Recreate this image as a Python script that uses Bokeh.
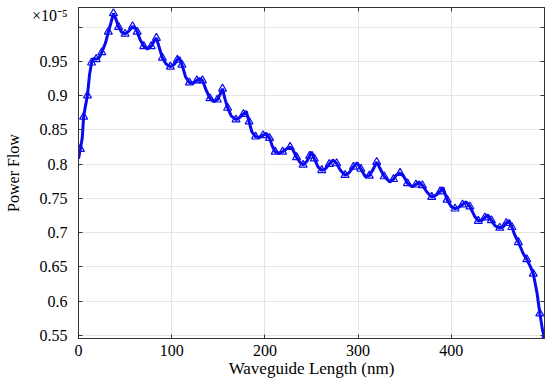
from bokeh.plotting import figure
from bokeh.models import LinearAxis, FixedTicker, Range1d
from bokeh.embed import file_html
from bokeh.resources import INLINE

# Waveguide length (nm) and power flow (units of 1e-5)
length_nm = [0, 2, 4, 5.5, 7.5, 9.6, 11.8, 14, 16, 19, 22, 25, 29, 32, 35, 37.5, 40, 43, 46, 50,
             54, 58, 61, 63, 66, 70, 74, 78, 81, 83.6, 86, 90, 94, 98.6, 103, 106, 108, 111, 115, 119,
             123, 127, 130, 133, 137, 141, 145, 149, 152, 154.5, 157, 160, 164, 169, 173, 177, 180, 183, 186, 190,
             194, 198, 201.5, 205, 208, 211, 215, 219, 223, 227, 230, 234, 238, 241, 245, 248, 250, 253, 257, 261,
             265, 269, 273, 277, 281, 286, 290, 295, 299, 303, 307.6, 312, 316, 320, 323, 328, 334, 338, 341, 345,
             349, 353, 358, 362, 365, 369, 374, 379, 384, 388, 391, 395.5, 400, 404, 408, 412, 416, 420, 425, 429,
             433, 436, 439, 443, 447, 452, 456, 459, 462, 465, 468, 472, 477, 481, 485, 488, 492, 495, 498, 500]
power_flow = [0.808, 0.822, 0.838, 0.869, 0.885, 0.900, 0.930, 0.948, 0.954, 0.953, 0.955, 0.963, 0.977, 0.993, 1.007, 1.020, 1.012, 1.000, 0.993, 0.990,
              0.994, 1.001, 0.998, 0.993, 0.982, 0.972, 0.968, 0.972, 0.979, 0.984, 0.973, 0.955, 0.946, 0.942, 0.946, 0.952, 0.956, 0.945, 0.927, 0.919,
              0.918, 0.922, 0.925, 0.922, 0.908, 0.896, 0.891, 0.894, 0.902, 0.910, 0.896, 0.882, 0.870, 0.865, 0.868, 0.873, 0.877, 0.862, 0.847, 0.840,
              0.839, 0.842, 0.845, 0.838, 0.826, 0.818, 0.816, 0.818, 0.822, 0.825, 0.821, 0.810, 0.802, 0.799, 0.804, 0.812, 0.818, 0.808, 0.796, 0.791,
              0.793, 0.800, 0.806, 0.801, 0.791, 0.784, 0.787, 0.796, 0.802, 0.793, 0.782, 0.783, 0.792, 0.803, 0.795, 0.782, 0.774, 0.778, 0.784, 0.787,
              0.782, 0.772, 0.767, 0.770, 0.774, 0.769, 0.759, 0.752, 0.755, 0.760, 0.766, 0.748, 0.738, 0.735, 0.737, 0.741, 0.745, 0.738, 0.724, 0.717,
              0.718, 0.722, 0.726, 0.718, 0.710, 0.707, 0.709, 0.714, 0.718, 0.708, 0.697, 0.686, 0.670, 0.661, 0.650, 0.640, 0.612, 0.582, 0.557, 0.546]
marker_idx = list(range(1, len(length_nm), 2))

x_ticks = [0, 100, 200, 300, 400]
y_ticks = [0.55, 0.6, 0.65, 0.7, 0.75, 0.8, 0.85, 0.9, 0.95, 1.0]
y_tick_labels = {0.55: "0.55", 0.6: "0.6", 0.65: "0.65", 0.7: "0.7", 0.75: "0.75",
                 0.8: "0.8", 0.85: "0.85", 0.9: "0.9", 0.95: "0.95", 1.0: ""}
exponent_pos = 1.0165
exponent_text = "\u00d710\u207b\u2075"

FONT = "Liberation Serif"
BLUE = "#0a0af0"
AX = "#333333"

p = figure(width=549, height=381, output_backend="svg", toolbar_location=None,
           x_range=Range1d(0, 500), y_range=Range1d(0.5456, 1.0285),
           min_border_left=78, min_border_right=5, min_border_top=7, min_border_bottom=43)
p.background_fill_color = "white"
p.border_fill_color = "white"
p.outline_line_color = AX
p.outline_line_width = 1

p.line(length_nm, power_flow, line_color=BLUE, line_width=3)
p.scatter([length_nm[i] for i in marker_idx], [power_flow[i] for i in marker_idx],
          marker="triangle", size=8, line_color=BLUE, fill_color=None, line_width=1.2)

xax = p.xaxis[0]
yax = p.yaxis[0]
for ax in (xax, yax):
    ax.minor_tick_line_color = None
    ax.major_label_text_font = FONT
    ax.major_label_text_font_size = "16px"
    ax.major_label_text_color = "black"
    ax.axis_label_text_font = FONT
    ax.axis_label_text_font_size = "16px"
    ax.axis_label_text_font_style = "normal"
    ax.axis_label_text_color = "black"

xax.major_tick_in = 4
xax.major_tick_out = 0
xax.axis_line_color = AX
xax.major_tick_line_color = AX
xax.ticker = FixedTicker(ticks=x_ticks)
xax.axis_label = "Waveguide Length (nm)"
xax.axis_label_text_font_size = "17px"
xax.major_label_standoff = 6
xax.axis_label_standoff = 0

# left labels axis (with the exponent note at the top); its own lines hidden
labels = dict(y_tick_labels)
labels[exponent_pos] = exponent_text
yax.ticker = FixedTicker(ticks=y_ticks + [exponent_pos])
yax.major_label_overrides = labels
yax.axis_line_color = None
yax.major_tick_line_color = None
yax.axis_label = "Power Flow"
yax.major_label_standoff = 5
yax.axis_label_standoff = 7

# tick-only axes drawn on the frame edges
def tick_axis(tk):
    return LinearAxis(ticker=FixedTicker(ticks=tk), major_tick_in=4, major_tick_out=0,
                      minor_tick_line_color=None, axis_line_color=AX,
                      major_tick_line_color=AX, major_label_text_font_size="1px",
                      major_label_overrides={t: "" for t in tk},
                      major_label_standoff=0)

p.left = [tick_axis(y_ticks)] + list(p.left)
p.add_layout(tick_axis(x_ticks), "above")
p.add_layout(tick_axis(y_ticks), "right")

p.xgrid.ticker = FixedTicker(ticks=x_ticks)
p.ygrid.ticker = FixedTicker(ticks=y_ticks)
p.grid.grid_line_color = "#e6e6e6"
p.grid.grid_line_width = 1

open("out.html", "w").write(file_html(p, INLINE))
